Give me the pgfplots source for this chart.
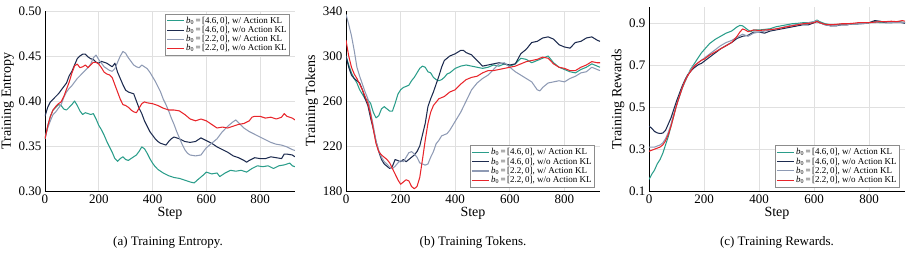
\documentclass[border=0pt]{standalone}
\usepackage{pgfplots}
\pgfplotsset{compat=1.18}
\usepackage{fontspec}
\setmainfont{Liberation Serif}

\definecolor{cteal}{HTML}{2A9D8A}
\definecolor{cnavy}{HTML}{1D2B4F}
\definecolor{cgray}{HTML}{8E9AB4}
\definecolor{cred}{HTML}{E8252B}

\newcommand{\bz}[1]{\textit{b}\textsubscript{0}\,=\,[#1,\,0]}

\pgfplotsset{
  trainstyle/.style={
    scale only axis,
    height=180pt,
    axis x line*=bottom,
    axis y line*=left,
    axis line style={-, line width=0.9pt, black},
    grid=major,
    major grid style={line width=0.8pt, color=black!12},
    major tick length=0pt,
    xmin=0, xmax=930,
    xtick={0,200,400,600,800},
    /pgf/number format/assume math mode=true,
    tick label style={font=\fontsize{13}{15}\selectfont},
    label style={font=\fontsize{14}{16}\selectfont},
    xlabel={Step},
    xlabel style={yshift=3pt},
    ylabel style={yshift=-2pt},
    legend cell align=left,
    legend style={font=\fontsize{9}{10.5}\selectfont, draw=black!45,
      line width=0.6pt, inner sep=1.5pt, row sep=-1.5pt,
      nodes={inner sep=1.5pt}},
    legend image code/.code={\draw[line width=1.1pt] (0pt,0pt) -- (0.6cm,0pt);},
    every axis plot/.append style={line width=1.05pt, line join=round},
  }
}

\begin{document}
\begin{tikzpicture}
\useasboundingbox (0pt,0pt) rectangle (911pt,260pt);

% ---------------- (a) entropy ----------------
\begin{axis}[trainstyle, at={(45pt,69pt)}, anchor=south west, width=250pt,
  ymin=0.30, ymax=0.50, ytick={0.30,0.35,0.40,0.45,0.50},
  yticklabel style={/pgf/number format/.cd, fixed, fixed zerofill, precision=2},
  ylabel={Training Entropy},
  legend style={at={(0.98,0.985)}, anchor=north east}]
\addplot[cteal] coordinates {(0,.358)(10,.372)(20,.383)(30,.39)(40,.393)(50,.396)(60,.395)(70,.391)(80,.39)(90,.393)(100,.396)(110,.400)(120,.395)(130,.389)(140,.385)(150,.387)(160,.386)(170,.385)(180,.386)(190,.380)(200,.373)(210,.368)(220,.362)(230,.355)(240,.349)(250,.343)(260,.336)(270,.333)(280,.336)(290,.338)(300,.335)(310,.334)(320,.336)(330,.338)(340,.340)(350,.344)(360,.349)(370,.347)(380,.342)(390,.336)(400,.331)(410,.327)(420,.324)(440,.320)(460,.317)(480,.315)(500,.314)(520,.312)(540,.310)(555,.309)(570,.313)(590,.318)(600,.321)(620,.319)(640,.320)(650,.316)(670,.320)(690,.323)(710,.322)(730,.323)(750,.321)(770,.325)(790,.328)(810,.327)(830,.328)(850,.325)(870,.328)(890,.329)(910,.331)(920,.328)(930,.327)};
\addlegendentry{\bz{4.6}, w/ Action KL}
\addplot[cnavy] coordinates {(0,.383)(10,.393)(20,.399)(30,.402)(40,.405)(50,.408)(60,.412)(70,.416)(80,.42)(90,.428)(100,.433)(110,.440)(120,.447)(130,.45)(140,.452)(150,.452)(160,.449)(170,.447)(180,.446)(190,.443)(200,.442)(210,.444)(220,.443)(230,.442)(240,.44)(250,.438)(260,.442)(270,.432)(280,.425)(290,.418)(300,.412)(310,.410)(320,.409)(330,.408)(340,.400)(350,.392)(360,.386)(370,.378)(380,.372)(390,.366)(400,.362)(410,.358)(420,.355)(430,.353)(440,.352)(450,.351)(460,.355)(470,.358)(480,.360)(490,.359)(500,.358)(520,.355)(540,.354)(560,.355)(580,.359)(600,.356)(620,.353)(640,.349)(660,.346)(680,.343)(700,.339)(720,.337)(740,.334)(750,.332)(760,.334)(780,.337)(800,.336)(820,.336)(840,.338)(860,.337)(880,.336)(890,.341)(900,.341)(920,.340)(930,.338)};
\addlegendentry{\bz{4.6}, w/o Action KL}
\addplot[cgray] coordinates {(0,.358)(10,.370)(20,.378)(30,.385)(40,.388)(50,.392)(60,.396)(70,.404)(80,.41)(90,.414)(100,.417)(110,.421)(120,.425)(130,.428)(140,.431)(150,.434)(160,.437)(170,.441)(180,.448)(190,.451)(200,.446)(210,.442)(220,.438)(230,.436)(240,.434)(250,.433)(260,.436)(270,.443)(280,.45)(290,.455)(300,.453)(310,.448)(320,.444)(330,.44)(340,.438)(350,.437)(360,.440)(370,.438)(380,.436)(390,.432)(400,.427)(410,.422)(420,.416)(430,.410)(440,.402)(450,.396)(460,.389)(470,.381)(480,.374)(490,.366)(500,.359)(510,.352)(520,.346)(530,.342)(540,.340)(560,.339)(580,.340)(600,.348)(620,.353)(640,.358)(660,.366)(680,.372)(700,.377)(710,.379)(720,.376)(740,.370)(760,.366)(780,.363)(800,.360)(820,.357)(840,.354)(860,.352)(880,.351)(900,.349)(920,.346)(930,.345)};
\addlegendentry{\bz{2.2}, w/ Action KL}
\addplot[cred] coordinates {(0,.358)(10,.372)(20,.383)(30,.39)(40,.394)(50,.397)(60,.399)(70,.405)(80,.413)(90,.421)(100,.431)(110,.439)(120,.441)(130,.437)(140,.438)(150,.440)(160,.437)(170,.440)(180,.443)(190,.443)(200,.441)(210,.437)(220,.432)(230,.430)(240,.429)(250,.426)(260,.418)(270,.410)(280,.402)(290,.396)(300,.395)(310,.393)(320,.390)(330,.388)(340,.387)(350,.392)(360,.397)(370,.399)(380,.398)(400,.397)(420,.395)(440,.392)(460,.390)(480,.390)(500,.389)(520,.385)(540,.380)(560,.378)(580,.380)(600,.378)(620,.374)(640,.370)(660,.371)(680,.370)(700,.372)(720,.374)(740,.375)(760,.378)(770,.382)(780,.383)(800,.383)(820,.381)(840,.382)(860,.380)(880,.382)(890,.386)(900,.383)(920,.381)(930,.379)};
\addlegendentry{\bz{2.2}, w/o Action KL}
\end{axis}

% ---------------- (b) tokens ----------------
\begin{axis}[trainstyle, at={(346pt,69pt)}, anchor=south west, width=254pt,
  ymin=180, ymax=340, ytick={180,220,260,300,340},
  ylabel={Training Tokens},
  legend style={at={(0.98,0.02)}, anchor=south east}]
\addplot[cteal] coordinates {(0,300)(10,292)(20,285)(30,280)(40,276)(50,270)(60,266)(70,262)(80,261)(90,258)(100,250)(110,245)(120,247)(130,253)(140,255)(150,253)(160,251)(170,251)(180,258)(190,266)(200,270)(210,272)(220,273)(230,274)(240,278)(250,281)(260,285)(270,289)(280,291)(290,290)(300,286)(310,285)(320,281)(330,279)(340,278)(350,279)(360,281)(370,284)(380,285)(400,289)(420,291)(440,292)(460,291)(480,290)(500,289)(520,290)(540,292)(560,291)(580,293)(600,291)(620,293)(640,298)(660,297)(680,294)(700,296)(720,298)(740,300)(760,294)(780,290)(800,288)(820,286)(840,285)(860,288)(880,290)(900,293)(920,291)(930,290)};
\addlegendentry{\bz{4.6}, w/ Action KL}
\addplot[cnavy] coordinates {(0,300)(10,290)(20,283)(30,280)(40,278)(50,276)(60,270)(70,262)(80,256)(90,245)(100,235)(110,224)(120,215)(130,208)(140,204)(150,202)(160,200)(170,202)(180,208)(190,207)(200,206)(210,208)(220,206)(230,208)(240,210)(250,212)(260,215)(270,220)(280,230)(290,240)(300,255)(310,262)(320,268)(330,275)(340,282)(350,290)(360,296)(380,300)(400,302)(420,305)(430,305)(440,303)(460,301)(480,296)(500,291)(520,292)(540,293)(560,294)(580,293)(600,292)(620,293)(640,302)(660,306)(680,312)(700,313)(720,316)(740,317)(760,315)(780,310)(800,308)(820,307)(840,312)(860,313)(880,316)(900,317)(920,314)(930,313)};
\addlegendentry{\bz{4.6}, w/o Action KL}
\addplot[cgray] coordinates {(0,337)(10,328)(20,318)(30,305)(40,290)(50,282)(60,275)(70,268)(80,262)(90,250)(100,238)(110,224)(120,216)(130,210)(140,206)(150,204)(160,201)(170,200)(180,202)(190,205)(200,207)(210,206)(220,210)(230,214)(240,215)(250,213)(260,210)(270,205)(280,204)(290,203)(300,204)(310,210)(320,215)(330,222)(340,225)(350,229)(360,230)(370,231)(380,234)(400,242)(420,250)(440,260)(460,270)(480,276)(500,280)(520,283)(540,288)(560,293)(580,294)(600,290)(620,286)(640,283)(660,280)(680,277)(700,270)(710,269)(720,272)(740,276)(760,277)(780,278)(800,277)(820,280)(840,282)(860,285)(880,286)(900,290)(920,288)(930,287)};
\addlegendentry{\bz{2.2}, w/ Action KL}
\addplot[cred] coordinates {(0,314)(10,300)(20,290)(30,284)(40,280)(50,275)(60,270)(70,264)(80,258)(90,248)(100,235)(110,222)(120,215)(130,212)(140,210)(150,208)(160,205)(170,200)(180,195)(190,190)(200,186)(210,188)(220,190)(230,189)(240,184)(250,182)(260,184)(270,192)(280,208)(290,225)(300,240)(310,250)(320,256)(340,262)(360,264)(380,268)(400,270)(420,275)(440,279)(460,281)(480,282)(500,285)(520,287)(540,287)(560,288)(580,289)(600,290)(620,291)(640,293)(660,295)(680,296)(700,297)(720,299)(740,298)(760,293)(780,290)(800,289)(820,287)(840,287)(860,290)(880,292)(900,295)(920,294)(930,294)};
\addlegendentry{\bz{2.2}, w/o Action KL}
\end{axis}

% ---------------- (c) rewards ----------------
\begin{axis}[trainstyle, at={(649pt,69pt)}, anchor=south west, width=256pt, height=184pt,
  ymin=0.1, ymax=0.98, ytick={0.1,0.3,0.5,0.7,0.9},
  yticklabel style={/pgf/number format/.cd, fixed, fixed zerofill, precision=1},
  ylabel={Training Rewards},
  legend style={at={(0.98,0.02)}, anchor=south east}]
\addplot[cteal] coordinates {(0,0.155)(10,0.18)(20,0.2)(30,0.23)(40,0.25)(50,0.28)(60,0.32)(70,0.36)(80,0.41)(90,0.46)(100,0.51)(110,0.55)(120,0.59)(130,0.62)(140,0.65)(150,0.68)(160,0.70)(170,0.72)(180,0.74)(190,0.76)(200,0.775)(210,0.79)(220,0.805)(230,0.815)(240,0.825)(260,0.84)(280,0.855)(300,0.865)(320,0.885)(330,0.892)(340,0.89)(350,0.88)(360,0.87)(370,0.862)(380,0.87)(400,0.87)(420,0.873)(440,0.876)(460,0.885)(480,0.89)(500,0.895)(520,0.90)(540,0.902)(560,0.905)(580,0.905)(600,0.91)(610,0.918)(620,0.91)(640,0.9)(660,0.895)(680,0.895)(700,0.898)(720,0.9)(740,0.9)(760,0.9)(780,0.902)(800,0.905)(820,0.91)(840,0.905)(860,0.905)(880,0.905)(900,0.91)(920,0.908)(930,0.905)};
\addlegendentry{\bz{4.6}, w/ Action KL}
\addplot[cnavy] coordinates {(0,0.41)(10,0.40)(20,0.385)(30,0.378)(40,0.375)(50,0.377)(60,0.39)(70,0.42)(80,0.45)(90,0.49)(100,0.53)(110,0.565)(120,0.6)(130,0.63)(140,0.655)(150,0.67)(160,0.685)(170,0.695)(180,0.705)(190,0.71)(200,0.72)(220,0.74)(240,0.76)(260,0.78)(280,0.795)(300,0.81)(320,0.83)(340,0.84)(360,0.845)(380,0.86)(400,0.86)(420,0.855)(440,0.865)(460,0.87)(480,0.875)(500,0.88)(520,0.885)(540,0.89)(560,0.895)(580,0.895)(600,0.905)(610,0.91)(620,0.905)(640,0.895)(660,0.89)(680,0.89)(700,0.895)(720,0.895)(740,0.9)(760,0.9)(780,0.902)(800,0.905)(820,0.915)(840,0.912)(860,0.905)(880,0.905)(900,0.91)(920,0.905)(930,0.902)};
\addlegendentry{\bz{4.6}, w/o Action KL}
\addplot[cgray] coordinates {(0,0.31)(10,0.31)(20,0.31)(30,0.315)(40,0.32)(50,0.33)(60,0.35)(70,0.38)(80,0.42)(90,0.47)(100,0.51)(110,0.55)(120,0.59)(130,0.625)(140,0.65)(150,0.675)(160,0.695)(170,0.705)(180,0.715)(190,0.725)(200,0.735)(220,0.755)(240,0.775)(260,0.795)(280,0.81)(300,0.82)(320,0.835)(340,0.85)(350,0.845)(360,0.84)(380,0.855)(400,0.86)(420,0.865)(440,0.87)(460,0.875)(480,0.88)(500,0.888)(520,0.893)(540,0.897)(560,0.9)(580,0.905)(600,0.91)(610,0.915)(620,0.905)(640,0.895)(660,0.89)(680,0.892)(700,0.895)(720,0.895)(740,0.9)(760,0.9)(780,0.9)(800,0.905)(820,0.905)(840,0.91)(860,0.908)(880,0.905)(900,0.905)(920,0.905)(930,0.905)};
\addlegendentry{\bz{2.2}, w/ Action KL}
\addplot[cred] coordinates {(0,0.29)(10,0.295)(20,0.30)(30,0.305)(40,0.31)(50,0.32)(60,0.34)(70,0.37)(80,0.41)(90,0.46)(100,0.51)(110,0.55)(120,0.59)(130,0.625)(140,0.65)(150,0.67)(160,0.69)(170,0.705)(180,0.715)(190,0.725)(200,0.73)(220,0.75)(240,0.765)(260,0.78)(280,0.795)(300,0.81)(320,0.84)(330,0.86)(340,0.875)(350,0.87)(360,0.862)(380,0.87)(400,0.868)(420,0.87)(440,0.872)(460,0.875)(480,0.88)(500,0.885)(520,0.89)(540,0.895)(560,0.9)(580,0.902)(600,0.905)(610,0.912)(620,0.905)(640,0.897)(660,0.895)(680,0.897)(700,0.9)(720,0.9)(740,0.902)(760,0.905)(780,0.905)(800,0.905)(820,0.908)(840,0.91)(860,0.91)(880,0.912)(900,0.91)(920,0.915)(930,0.912)};
\addlegendentry{\bz{2.2}, w/o Action KL}
\end{axis}

% sub-figure captions
\node[font=\fontsize{13}{15}\selectfont] at (168pt,18pt) {(a) Training Entropy.};
\node[font=\fontsize{13}{15}\selectfont] at (473pt,18pt) {(b) Training Tokens.};
\node[font=\fontsize{13}{15}\selectfont] at (777pt,18pt) {(c) Training Rewards.};
\end{tikzpicture}
\end{document}
